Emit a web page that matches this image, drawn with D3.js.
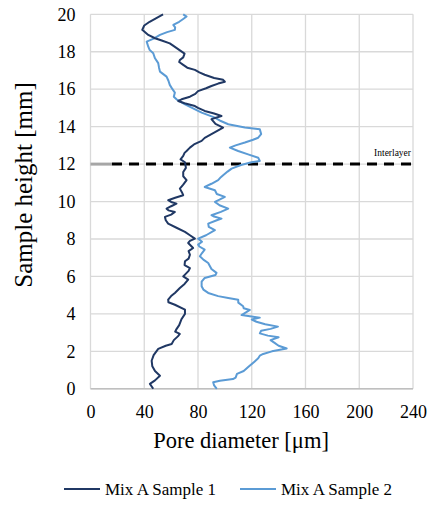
<!DOCTYPE html>
<html>
<head>
<meta charset="utf-8">
<script src="https://cdn.jsdelivr.net/npm/d3@7"></script>
<style>
  html, body { margin: 0; padding: 0; background: #fff; }
  svg text { font-family: "Liberation Serif", "DejaVu Serif", serif !important; fill: #000; }
</style>
</head>
<body>
<svg id="chart" width="435" height="506" font-family="Liberation Serif"></svg>
<script>
// ---- data ----
const xTicks = [0, 40, 80, 120, 160, 200, 240];
const yTicks = [0, 2, 4, 6, 8, 10, 12, 14, 16, 18, 20];
const seriesNames = ["Mix A Sample 1", "Mix A Sample 2"];
const interlayerHeight = 12;
const interlayerLabel = "Interlayer";

const height1 = [0,0.26,0.45,0.7,0.95,1.2,1.5,1.8,2.13,2.3,2.39,2.6,2.8,2.93,3.05,3.19,3.4,3.73,4.0,4.23,4.49,4.62,4.76,4.95,5.12,5.38,5.6,5.83,6.0,6.1,6.3,6.45,6.6,6.81,6.95,7.16,7.35,7.52,7.79,7.9,8.02,8.2,8.38,8.6,8.82,9.0,9.18,9.3,9.44,9.53,9.62,9.75,9.89,9.98,10.07,10.2,10.34,10.5,10.69,10.9,11.14,11.35,11.58,11.8,12.1,12.25,12.44,12.6,12.7,12.88,13.05,13.24,13.4,13.6,13.8,13.95,14.15,14.4,14.57,14.7,14.84,15.0,15.1,15.25,15.37,15.46,15.6,15.75,15.9,16.05,16.17,16.3,16.4,16.5,16.6,16.77,16.9,17.03,17.15,17.3,17.45,17.56,17.7,17.9,18.1,18.3,18.45,18.6,18.72,18.9,19.17,19.4,19.6,19.8,20];
const pore1 = [46.7,44.2,48,51.7,48,46,45.5,47,50.4,56,60.4,62,65,66.5,63,64,66,67.8,70.3,70.3,62.8,58,57.8,60,62.8,66.5,70,72.7,69,70.3,73,74,70,70.3,73,74,73,76.4,72.7,74,77.7,74,70.3,64,57.8,56,55.4,60,62.8,58,56.6,60,64,60,57.8,63,69,68,66.5,69,71.5,69,69,71,70.3,67,69,70,71.5,74,77,82.7,85,90,95,98.7,93,90,97.5,92,85,80,77.7,70,65.3,67.8,74,78,80,86,90,95,100,98.7,92,85,81,77.7,72,69,66,66.5,69,70,66,62,59,53,48,43,38.5,40,44,49,54];

const height2 = [0,0.18,0.35,0.43,0.52,0.6,0.8,0.95,1.2,1.45,1.63,1.77,1.86,2.0,2.07,2.15,2.3,2.45,2.6,2.75,2.84,2.96,3.1,3.2,3.32,3.45,3.58,3.7,3.8,3.94,4.1,4.21,4.3,4.41,4.6,4.76,4.85,4.95,5.12,5.3,5.48,5.72,5.92,6.08,6.19,6.4,6.72,6.9,7.08,7.25,7.43,7.6,7.7,7.85,8.02,8.2,8.47,8.65,8.82,9.0,9.09,9.2,9.27,9.45,9.62,9.8,9.98,10.1,10.25,10.4,10.6,10.78,10.95,11.14,11.3,11.4,11.6,11.76,11.95,12.1,12.17,12.34,12.52,12.7,12.88,13.0,13.15,13.3,13.41,13.6,13.86,13.95,14.13,14.3,14.48,14.75,15.02,15.2,15.46,15.6,15.82,16.0,16.23,16.45,16.67,16.94,17.15,17.39,17.65,17.92,18.1,18.27,18.54,18.7,18.9,19.05,19.17,19.3,19.43,19.6,19.75,19.88,20];
const pore2 = [94,92,91.3,96.3,106,108,109,114,118,122,124.8,126,128.5,135,140,146,140,137,134,140,132,126,127,134,139.5,130,123.5,120,126,112.4,116,118.6,114,113.6,110,109.9,102.5,95,87.6,84,82.7,82.7,85,93,93.8,90,87.6,84,81.4,83,85,81,80.1,83,80.1,86,92.6,88,87.6,94,97.5,92,90,97,102.5,96,92.6,96,100,94,92.6,85,90,95,97,98.7,102,105,112,119.8,126,124.8,117.3,109.9,103.7,108,114.9,121,124.8,127,126,114.9,102.5,97,92.6,82.7,75.2,70,64,62,62.8,61,59,58,56.6,51.7,51,50.4,48,46.7,44,43,41.8,47,51.7,57,62.8,63,61.6,66,69,71.5,69];

const colors = ["#203864", "#5b9bd5"];

// ---- chart ----
const svg = d3.select("#chart");
const plot = { left: 90.5, right: 413, top: 14.3, bottom: 388.8 };
const x = d3.scaleLinear().domain([0, 240]).range([plot.left, plot.right]);
const y = d3.scaleLinear().domain([0, 20]).range([plot.bottom, plot.top]);

// gridlines
svg.append("g").selectAll("line").data(xTicks).join("line")
  .attr("x1", d => x(d)).attr("x2", d => x(d))
  .attr("y1", plot.top).attr("y2", plot.bottom)
  .attr("stroke", "#d9d9d9").attr("stroke-width", 1.3);
svg.append("g").selectAll("line").data(yTicks).join("line")
  .attr("x1", plot.left).attr("x2", plot.right)
  .attr("y1", d => y(d)).attr("y2", d => y(d))
  .attr("stroke", "#d9d9d9").attr("stroke-width", 1.3);

// bottom axis line
svg.append("line").attr("x1", plot.left).attr("x2", plot.right)
  .attr("y1", y(0)).attr("y2", y(0)).attr("stroke", "#bfbfbf").attr("stroke-width", 1.5);

// axes labels via d3 axes
const xAxis = svg.append("g").attr("transform", `translate(0,${plot.bottom})`)
  .call(d3.axisBottom(x).tickValues(xTicks).tickSize(0).tickPadding(16));
xAxis.attr("font-family", "Liberation Serif").attr("font-size", 18);
xAxis.select(".domain").remove();

const yAxis = svg.append("g").attr("transform", `translate(${plot.left},0)`)
  .call(d3.axisLeft(y).tickValues(yTicks).tickSize(0).tickPadding(15));
yAxis.attr("font-family", "Liberation Serif").attr("font-size", 18);
yAxis.select(".domain").remove();

// interlayer line
svg.append("line").attr("x1", x(0)).attr("x2", x(16))
  .attr("y1", y(interlayerHeight)).attr("y2", y(interlayerHeight))
  .attr("stroke", "#a6a6a6").attr("stroke-width", 3);
svg.append("line").attr("x1", x(16)).attr("x2", x(240))
  .attr("y1", y(interlayerHeight)).attr("y2", y(interlayerHeight))
  .attr("stroke", "#000").attr("stroke-width", 3).attr("stroke-dasharray", "10,7");
svg.append("text").attr("x", 411).attr("y", y(interlayerHeight) - 8)
  .attr("text-anchor", "end").attr("font-size", 9.5).text(interlayerLabel);

// series lines
const line = d3.line().x(d => x(d[1])).y(d => y(d[0]));
const s1 = height1.map((h, i) => [h, pore1[i]]);
const s2 = height2.map((h, i) => [h, pore2[i]]);
svg.append("path").datum(s2).attr("d", line).attr("fill", "none")
  .attr("stroke", colors[1]).attr("stroke-width", 2).attr("stroke-linejoin", "round");
svg.append("path").datum(s1).attr("d", line).attr("fill", "none")
  .attr("stroke", colors[0]).attr("stroke-width", 2).attr("stroke-linejoin", "round");

// axis titles
svg.append("text").attr("x", 241).attr("y", 448)
  .attr("text-anchor", "middle").attr("font-size", 22.5).text("Pore diameter [μm]");
svg.append("text").attr("transform", `translate(32,185) rotate(-90)`)
  .attr("text-anchor", "middle").attr("font-size", 25).text("Sample height [mm]");

// legend
const legendX = [64, 240];
seriesNames.forEach((name, i) => {
  const g = svg.append("g").attr("transform", `translate(${legendX[i]},489)`);
  g.append("line").attr("x1", 0).attr("x2", 36).attr("y1", 0).attr("y2", 0)
    .attr("stroke", colors[i]).attr("stroke-width", 2);
  g.append("text").attr("x", 41).attr("y", 5.5).attr("font-size", 17).text(name);
});
</script>
</body>
</html>
